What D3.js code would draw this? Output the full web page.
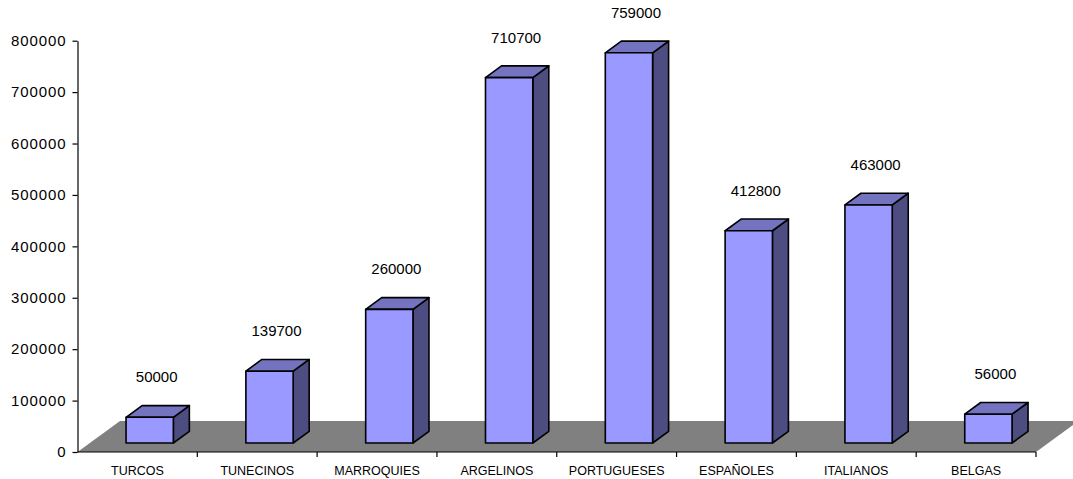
<!DOCTYPE html>
<html>
<head>
<meta charset="utf-8">
<script src="https://cdn.jsdelivr.net/npm/d3@7"></script>
<style>
  body { margin: 0; background: #fff; }
  text { font-family: "Liberation Sans", Arial, sans-serif; fill: #000; }
</style>
</head>
<body>
<svg id="chart"></svg>
<script>
// chart data
const categories = ["TURCOS", "TUNECINOS", "MARROQUIES", "ARGELINOS", "PORTUGUESES", "ESPAÑOLES", "ITALIANOS", "BELGAS"];
const values = [50000, 139700, 260000, 710700, 759000, 412800, 463000, 56000];
const yTicks = [0, 100000, 200000, 300000, 400000, 500000, 600000, 700000, 800000];

const svgWidth = 1073, svgHeight = 479;
const plotLeft = 77.5, plotRight = 1036, plotBottom = 452, plotTop = 40.7;

// depth of the floor and of each bar (3d look)
const floorDx = 42.5, floorDy = -31;
const barFrontDx = 12.3, barFrontDy = -9;
const barDx = 16, barDy = -11.7;
const barWidth = 47.3;

let svg = d3.select('#chart')
    .attr("width", svgWidth)
    .attr("height", svgHeight);

let x = d3.scaleBand()
    .domain(categories)
    .range([plotLeft, plotRight]);

let y = d3.scaleLinear()
    .domain([0, 800000])
    .range([plotBottom, plotTop]);

function pts(arr) { return arr.map(p => p.join(",")).join(" "); }

// floor
svg.append("polygon")
    .attr("points", pts([
        [plotLeft, plotBottom], [plotRight, plotBottom],
        [plotRight + floorDx, plotBottom + floorDy], [plotLeft + floorDx, plotBottom + floorDy]
    ]))
    .attr("fill", "#808080");

// y axis
let yAxis = svg.append("g")
    .attr("transform", "translate(" + plotLeft + ",0)")
    .call(d3.axisLeft(y).tickValues(yTicks).tickFormat(d3.format("d")).tickSize(5).tickSizeOuter(0).tickPadding(6));
yAxis.select(".domain").attr("stroke", "#000").attr("stroke-width", 1.2);
yAxis.selectAll(".tick line").attr("stroke", "#000").attr("stroke-width", 1.2);
yAxis.selectAll(".tick text")
    .attr("font-size", "15px")
    .attr("letter-spacing", "0.9px")
    .attr("font-family", "Liberation Sans, Arial, sans-serif")
    .attr("fill", "#000");

// x axis
let xAxis = svg.append("g")
    .attr("transform", "translate(0," + plotBottom + ")");
xAxis.append("line")
    .attr("x1", plotLeft).attr("x2", plotRight)
    .attr("stroke", "#000").attr("stroke-width", 1.2);
xAxis.selectAll(".xtick")
    .data(categories)
    .enter().append("line")
    .attr("x1", d => x(d) + x.bandwidth())
    .attr("x2", d => x(d) + x.bandwidth())
    .attr("y1", 0).attr("y2", 5)
    .attr("stroke", "#000").attr("stroke-width", 1.2);
xAxis.selectAll(".xlabel")
    .data(categories)
    .enter().append("text")
    .attr("x", d => x(d) + x.bandwidth() / 2)
    .attr("y", 23)
    .attr("text-anchor", "middle")
    .attr("font-size", "12.5px")
    .text(d => d);

// bars
const data = categories.map((c, i) => ({ cat: c, value: values[i] }));

let bars = svg.selectAll(".bar")
    .data(data)
    .enter().append("g")
    .attr("class", "bar");

bars.each(function (d) {
    let g = d3.select(this);
    let x0 = x(d.cat) + x.bandwidth() / 2 - barWidth / 2 + barFrontDx;
    let x1 = x0 + barWidth;
    let yb = y(0) + barFrontDy;
    let yt = y(d.value) + barFrontDy;

    // side
    g.append("polygon")
        .attr("points", pts([[x1, yb], [x1 + barDx, yb + barDy], [x1 + barDx, yt + barDy], [x1, yt]]))
        .attr("fill", "#4d4d82");
    // top
    g.append("polygon")
        .attr("points", pts([[x0, yt], [x1, yt], [x1 + barDx, yt + barDy], [x0 + barDx, yt + barDy]]))
        .attr("fill", "#7373c0");
    // front
    g.append("rect")
        .attr("x", x0).attr("y", yt)
        .attr("width", barWidth).attr("height", yb - yt)
        .attr("fill", "#9999ff");

    g.selectAll("polygon, rect")
        .attr("stroke", "#000")
        .attr("stroke-width", 1.6)
        .attr("stroke-linejoin", "round");

    // value label
    g.append("text")
        .attr("x", x0 + barWidth / 2 + 7)
        .attr("y", yt - 35)
        .attr("text-anchor", "middle")
        .attr("font-size", "15px")
        .text(d.value);
});
</script>
</body>
</html>
